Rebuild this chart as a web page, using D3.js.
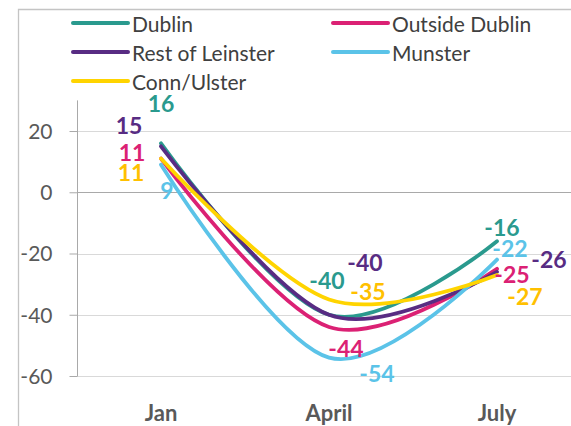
<!DOCTYPE html>
<html><head><meta charset="utf-8">
<script src="https://cdn.jsdelivr.net/npm/d3@7"></script>
<style>body{margin:0;background:#fff}svg{display:block}</style>
</head><body>
<svg id="c" width="571" height="426"></svg>
<script>
const categories = ["Jan", "April", "July"];
const seriesNames = ["Dublin", "Outside Dublin", "Rest of Leinster", "Munster", "Conn/Ulster"];
const dublin = [16, -40, -16];
const outsideDublin = [11, -44, -25];
const restOfLeinster = [15, -40, -26];
const munster = [9, -54, -22];
const connUlster = [11, -35, -27];
const yTicks = [-60, -40, -20, 0, 20];
const lineColors = ["#2A9A8E", "#DB2174", "#582C83", "#5BC3E8", "#FFD400"];
const labelColors = ["#2A9A8E", "#DB2174", "#582C83", "#5BC3E8", "#FFC000"];
// label offsets from each point [dx, dy] per series per category
const labelOffsets = [
  [[0, -40], [-2, -35], [5, -14]],
  [[-29, -7], [17, 21], [15, 5]],
  [[-32, -21], [36, -53], [52, -13]],
  [[6, 25], [48, 15], [13, -12]],
  [[-30, 13], [39, -8], [28, 21]]
];
const allValues = [dublin, outsideDublin, restOfLeinster, munster, connUlster];
const series = seriesNames.map((n, i) => ({name: n, values: allValues[i], color: lineColors[i], lcolor: labelColors[i], offs: labelOffsets[i]}));

const svg = d3.select("#c");
const font = "Lato, 'Open Sans', sans-serif";

// frame
svg.append("path").attr("d", "M18.5,426 V9.5 H571").attr("fill", "none").attr("stroke", "#C4C4C4").attr("stroke-width", 1.3);

const x = d3.scaleBand().domain(categories).range([77, 581]).padding(0);
const y = d3.scaleLinear().domain([-60, 30]).range([376, 100.4]);
const cx = c => x(c) + x.bandwidth() / 2;

// gridlines
svg.append("g").selectAll("line").data(yTicks.filter(t => t !== 0)).join("line")
  .attr("x1", 77).attr("x2", 571).attr("y1", d => Math.round(y(d)) + 0.5).attr("y2", d => Math.round(y(d)) + 0.5)
  .attr("stroke", "#D9D9D9").attr("stroke-width", 1);
// zero line
svg.append("line").attr("x1", 77).attr("x2", 571).attr("y1", Math.round(y(0)) + 0.5).attr("y2", Math.round(y(0)) + 0.5)
  .attr("stroke", "#A9A9A9").attr("stroke-width", 1);

// y axis
const yAxis = d3.axisLeft(y).tickValues(yTicks).tickSize(8).tickPadding(17).tickFormat(d => String(d));
const ga = svg.append("g").attr("transform", "translate(77.5,0)").call(yAxis);
ga.select(".domain").attr("stroke", "#A9A9A9").attr("d", `M0,${y(30)}V${y(-60)}`);
ga.selectAll(".tick line").attr("stroke", "#A9A9A9");
ga.selectAll(".tick text").attr("fill", "#595959").style("font-family", font).style("font-size", "21px").attr("dy", "0.35em");

// x labels
svg.append("g").selectAll("text").data(categories).join("text")
  .attr("x", d => cx(d)).attr("y", 412).attr("text-anchor", "middle").attr("dominant-baseline", "central")
  .attr("fill", "#595959").style("font-family", font).style("font-size", "22px").style("font-weight", "bold")
  .text(d => d);

// lines
const line = d3.line().x((d, i) => cx(categories[i])).y(d => y(d)).curve(d3.curveCardinal.tension(0));
svg.append("g").selectAll("path").data(series).join("path")
  .attr("d", s => line(s.values)).attr("fill", "none").attr("stroke", s => s.color)
  .attr("stroke-width", 3.8).attr("stroke-linecap", "round");

// data labels
series.forEach(s => {
  svg.append("g").selectAll("text").data(s.values).join("text")
    .attr("x", (d, i) => cx(categories[i]) + s.offs[i][0])
    .attr("y", (d, i) => y(d) + s.offs[i][1])
    .attr("text-anchor", "middle").attr("dominant-baseline", "central")
    .attr("fill", s.lcolor).style("font-family", font).style("font-size", "23px").style("font-weight", "bold")
    .text(d => d);
});

// legend
const legendPos = [[73, 23], [333, 23], [73, 52], [333, 52], [73, 81]];
const lg = svg.append("g").selectAll("g").data(series).join("g")
  .attr("transform", (d, i) => `translate(${legendPos[i][0]},${legendPos[i][1]})`);
lg.append("line").attr("x1", 0).attr("x2", 55).attr("stroke", d => d.color).attr("stroke-width", 4).attr("stroke-linecap", "round");
lg.append("text").attr("x", 59).attr("dominant-baseline", "central").attr("fill", "#404040")
  .style("font-family", font).style("font-size", "21px").text(d => d.name);
</script>
</body></html>
